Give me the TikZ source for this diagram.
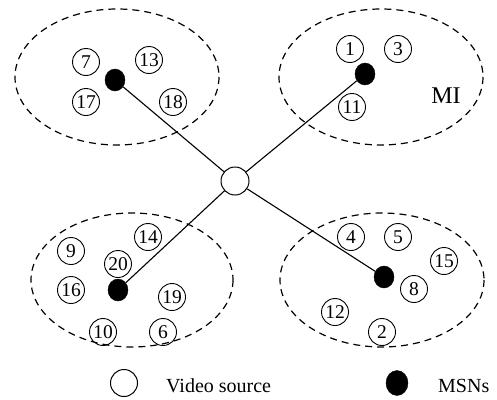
\documentclass[tikz,border=0pt]{standalone}
\usepackage{fontspec}
\setmainfont{Liberation Serif}
\usepackage{tikz}
\usetikzlibrary{shapes.geometric}

\begin{document}
\begin{tikzpicture}[x=1pt, y=-1pt,
    peer/.style={draw, circle, line width=0.9pt, minimum size=27pt, inner sep=0pt,
                 font=\fontsize{19.5}{19.5}\selectfont},
    msn/.style={draw, fill=black, ellipse, minimum width=20pt, minimum height=22pt, inner sep=0pt},
    source/.style={draw, circle, line width=1pt, minimum size=28pt, inner sep=0pt, fill=white},
    group/.style={draw, dash pattern=on 7pt off 5pt, line width=1.2pt},
    link/.style={line width=1.1pt},
    legend/.style={anchor=base west, inner sep=0pt, font=\fontsize{20}{20}\selectfont}]

\useasboundingbox (0,0) rectangle (497,399);

% === Groups ===
\draw[group] (117,77) ellipse [x radius=102, y radius=68];
\draw[group] (381,77) ellipse [x radius=102, y radius=68];
\draw[group] (132,280) ellipse [x radius=101, y radius=67];
\draw[group] (382,280) ellipse [x radius=102, y radius=67];

% === MSNs ===
\node[msn] (m1) at (115,80) {};
\node[msn] (m2) at (365,74) {};
\node[msn] (m3) at (118,290) {};
\node[msn] (m4) at (384,277) {};

% === Video source ===
\node[source] (vs) at (235,181) {};
\draw[link] (vs) -- (m1);
\draw[link] (vs) -- (m2);
\draw[link] (vs) -- (m3);
\draw[link] (vs) -- (m4);

% === Top left ===
\node[peer] (n7) at (86,62) {7};
\node[peer] (n13) at (149,60) {13};
\node[peer] (n17) at (86,102) {17};
\node[peer] (n18) at (173,102) {18};

% === Top right ===
\node[peer] (n1) at (350,49) {1};
\node[peer] (n3) at (398,49) {3};
\node[peer] (n11) at (352,107) {11};
\node[font=\fontsize{24}{24}\selectfont] (mi) at (446,96) {MI};

% === Bottom left ===
\node[peer] (n9) at (71,251) {9};
\node[peer] (n14) at (148,237) {14};
\node[peer] (n20) at (118,264) {20};
\node[peer] (n16) at (71,290) {16};
\node[peer] (n19) at (172,297) {19};
\node[peer] (n10) at (103,332) {10};
\node[peer] (n6) at (163,332) {6};

% === Bottom right ===
\node[peer] (n4) at (351,237) {4};
\node[peer] (n5) at (398,237) {5};
\node[peer] (n15) at (444,261) {15};
\node[peer] (n8) at (414,289) {8};
\node[peer] (n12) at (335,312) {12};
\node[peer] (n2) at (382,332) {2};

% === Legend ===
\node[source, minimum size=27pt] (lvs) at (124,383) {};
\node[legend] (lvstext) at (166,392) {Video source};
\node[msn, minimum width=22pt, minimum height=25pt] (lmsn) at (397,383) {};
\node[legend] (lmsntext) at (438,392) {MSNs};

\end{tikzpicture}
\end{document}
